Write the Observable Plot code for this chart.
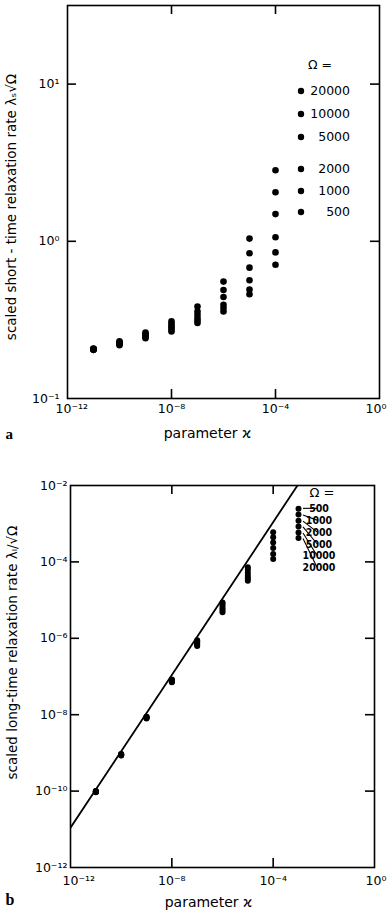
<!DOCTYPE html>
<html><head><meta charset="utf-8">
<script src="https://cdn.jsdelivr.net/npm/d3@7"></script>
<script src="https://cdn.jsdelivr.net/npm/@observablehq/plot@0.6"></script>
<style>
html,body{margin:0;padding:0;background:#fff;}
#chart svg{display:block;}
</style></head><body><div id="chart"></div>
<script>
// ---------- data ----------
const omegas = [20000, 10000, 5000, 2000, 1000, 500];

// panel a: scaled short-time relaxation rate
const kappaShort = [1e-11, 1e-10, 1e-9, 1e-8, 1e-7, 1e-6, 1e-5, 1e-4];
const shortRate20000 = [0.208, 0.231, 0.263, 0.310, 0.385, 0.554, 1.04, 2.83];
const shortRate10000 = [0.207, 0.228, 0.258, 0.300, 0.358, 0.490, 0.84, 2.05];
const shortRate5000  = [0.206, 0.226, 0.254, 0.290, 0.341, 0.442, 0.68, 1.49];
const shortRate2000  = [0.205, 0.223, 0.250, 0.283, 0.325, 0.395, 0.565, 1.06];
const shortRate1000  = [0.204, 0.221, 0.246, 0.275, 0.313, 0.376, 0.494, 0.85];
const shortRate500   = [0.204, 0.218, 0.242, 0.267, 0.302, 0.358, 0.460, 0.71];

// panel b: scaled long-time relaxation rate
const kappaLong = [1e-11, 1e-10, 1e-9, 1e-8, 1e-7, 1e-6, 1e-5, 1e-4, 1e-3];
const longRate500   = [1.00e-10, 9.3e-10, 8.9e-9, 8.3e-8, 8.9e-7, 8.7e-6, 7.2e-5, 6.0e-4, 2.45e-3];
const longRate1000  = [9.9e-11, 9.2e-10, 8.7e-9, 8.1e-8, 8.4e-7, 7.9e-6, 6.2e-5, 4.4e-4, 1.75e-3];
const longRate2000  = [9.8e-11, 9.0e-10, 8.6e-9, 7.9e-8, 7.8e-7, 7.0e-6, 5.1e-5, 3.2e-4, 1.20e-3];
const longRate5000  = [9.6e-11, 8.9e-10, 8.4e-9, 7.6e-8, 7.2e-7, 6.1e-6, 4.3e-5, 2.3e-4, 8.5e-4];
const longRate10000 = [9.5e-11, 8.7e-10, 8.2e-9, 7.3e-8, 6.7e-7, 5.4e-6, 3.7e-5, 1.6e-4, 5.9e-4];
const longRate20000 = [9.3e-11, 8.5e-10, 7.9e-9, 7.1e-8, 6.3e-7, 4.8e-6, 3.2e-5, 1.2e-4, 4.2e-4];

// asymptotic straight line in panel b
const lineKappa = [1e-12, 1e-3];
const lineRate  = [1.1e-11, 1.1e-2];

// tick values
const xTickValues = [1e-12, 1e-8, 1e-4, 1];
const yTicksShort = [1e-1, 1, 10];
const yTicksLong = [1e-12, 1e-10, 1e-8, 1e-6, 1e-4, 1e-2];

const legendTitle = "Ω =";
const labelShortY = "scaled short - time relaxation rate λₛ√Ω";
const labelLongY = "scaled long-time relaxation rate λₗ/√Ω";
const labelX = "parameter ϰ";

// ---------- build tables ----------
const shortSeries = {20000: shortRate20000, 10000: shortRate10000, 5000: shortRate5000, 2000: shortRate2000, 1000: shortRate1000, 500: shortRate500};
const longSeries = {500: longRate500, 1000: longRate1000, 2000: longRate2000, 5000: longRate5000, 10000: longRate10000, 20000: longRate20000};
const shortRows = omegas.flatMap(o => kappaShort.map((k, i) => ({kappa: k, omega: o, value: shortSeries[o][i]})));
const longRows = omegas.flatMap(o => kappaLong.map((k, i) => ({kappa: k, omega: o, value: longSeries[o][i]})));
const lineRows = lineKappa.map((k, i) => ({kappa: k, value: lineRate[i]}));

const SUP = {"-": "⁻", "0": "⁰", "1": "¹", "2": "²", "3": "³", "4": "⁴", "5": "⁵", "6": "⁶", "7": "⁷", "8": "⁸", "9": "⁹"};
const pow10 = d => "10" + String(Math.round(Math.log10(d))).split("").map(c => SUP[c]).join("");

const FONT = "'DejaVu Sans', sans-serif";
const NARROW = "'Liberation Sans Narrow', 'DejaVu Sans Condensed', 'DejaVu Sans', sans-serif";
const W = 387;

function innerTicks(xt, yt, fw, fh, len) {
  return [
    Plot.ruleX(xt, {x: d => d, insetTop: fh - len, strokeWidth: 1.6}),
    Plot.ruleX(xt, {x: d => d, insetBottom: fh - len, strokeWidth: 1.6}),
    Plot.ruleY(yt, {y: d => d, insetRight: fw - len, strokeWidth: 1.6}),
    Plot.ruleY(yt, {y: d => d, insetLeft: fw - len, strokeWidth: 1.6})
  ];
}

function xAxes(pad, startDx, endDx) {
  const common = {tickSize: 0, tickPadding: pad, tickFormat: pow10, label: null, fontSize: 12.5};
  return [
    Plot.axisX({...common, ticks: xTickValues.slice(0, 1), textAnchor: "start", dx: startDx}),
    Plot.axisX({...common, ticks: xTickValues.slice(1, 3)}),
    Plot.axisX({...common, ticks: xTickValues.slice(3), textAnchor: "end", dx: endDx})
  ];
}

// ---------- panel a ----------
const A = {h: 450, mt: 5, mb: 52, ml: 67, mr: 8};
const aFW = W - A.ml - A.mr, aFH = A.h - A.mt - A.mb;
const legendA = (index, scales, values, dims) => {
  const g = d3.create("svg:g").attr("font-family", FONT).attr("font-size", 12.5).attr("fill", "black");
  const xd = scales.x(1e-3);
  const xr = xd + 49;
  g.append("text").attr("x", xd + 19).attr("y", dims.marginTop + 60).attr("dy", "0.35em").text(legendTitle);
  omegas.forEach((o, i) => {
    const y = dims.marginTop + 86 + i * 23 - (i > 2 ? i === 3 ? -9 : i === 4 ? -8 : -6 : 0);
    g.append("circle").attr("cx", xd).attr("cy", y).attr("r", 3.2);
    g.append("text").attr("x", xr).attr("y", y).attr("dy", "0.35em").attr("text-anchor", "end").text(o);
  });
  return g.node();
};

const plotA = Plot.plot({
  width: W, height: A.h, marginTop: A.mt, marginBottom: A.mb, marginLeft: A.ml, marginRight: A.mr,
  style: {fontFamily: FONT, background: "white", color: "black"},
  x: {type: "log", domain: [1e-12, 1]},
  y: {type: "log", domain: [0.1, Math.pow(10, 1.5)]},
  marks: [
    Plot.frame({strokeWidth: 1.6}),
    ...innerTicks(xTickValues.slice(1, 3), [1, 10], aFW, aFH, 9),
    ...xAxes(6, -12, 7),
    Plot.axisY({ticks: yTicksShort, tickSize: 0, tickPadding: 8, tickFormat: pow10, label: null, fontSize: 12.5}),
    Plot.dot(shortRows, {x: "kappa", y: "value", r: 3.3, fill: "black"}),
    legendA,
    Plot.text([labelShortY], {text: d => d, frameAnchor: "left", textAnchor: "middle", rotate: -90, dx: -56, dy: 5, fontSize: 13.5}),
    Plot.text([labelX], {text: d => d, frameAnchor: "bottom", textAnchor: "middle", dx: -16, dy: 39, fontSize: 14, letterSpacing: 0.5}),
    Plot.text(["a"], {text: d => d, frameAnchor: "bottom-left", textAnchor: "start", dx: -62, dy: 40, fontSize: 15, fontWeight: "bold", fontFamily: "'Liberation Serif', serif"})
  ]
});

// ---------- panel b ----------
const B = {h: 467, mt: 35, mb: 50, ml: 70, mr: 13};
const bFW = W - B.ml - B.mr, bFH = B.h - B.mt - B.mb;
const legendOrder = [500, 1000, 2000, 5000, 10000, 20000];
const legendB = (index, scales, values, dims) => {
  const g = d3.create("svg:g").attr("font-family", NARROW).attr("font-size", 10.5).attr("fill", "black").attr("font-weight", "bold");
  const xd = scales.x(1e-3);
  const y0 = scales.y(longSeries[500][8]);
  g.append("text").attr("x", xd + 24).attr("y", y0 - 16).attr("dy", "0.35em").attr("font-weight", "normal").attr("font-family", FONT).attr("font-size", 13).text(legendTitle);
  legendOrder.forEach((o, i) => {
    const yd = scales.y(longSeries[o][8]);
    const yl = y0 + i * 11.8;
    g.append("line").attr("x1", xd + 5).attr("y1", yd + (i ? 1 : 0)).attr("x2", xd + 19).attr("y2", yl).attr("stroke", "black").attr("stroke-width", 1.1);
    g.append("text").attr("x", xd + 21).attr("y", yl).attr("dy", "0.36em").text(o);
  });
  return g.node();
};

const plotB = Plot.plot({
  width: W, height: B.h, marginTop: B.mt, marginBottom: B.mb, marginLeft: B.ml, marginRight: B.mr,
  style: {fontFamily: FONT, background: "white", color: "black"},
  x: {type: "log", domain: [1e-12, 1]},
  y: {type: "log", domain: [1e-12, 1e-2]},
  marks: [
    Plot.frame({strokeWidth: 1.6}),
    ...innerTicks(xTickValues.slice(1, 3), yTicksLong.slice(1, 5), bFW, bFH, 9),
    ...xAxes(9, -8, 12),
    Plot.axisY({ticks: yTicksLong, tickSize: 0, tickPadding: 3, tickFormat: pow10, label: null, fontSize: 12.5}),
    Plot.line(lineRows, {x: "kappa", y: "value", stroke: "black", strokeWidth: 1.8, clip: true}),
    Plot.dot(longRows, {x: "kappa", y: "value", r: 3, fill: "black"}),
    legendB,
    Plot.text([labelLongY], {text: d => d, frameAnchor: "left", textAnchor: "middle", rotate: -90, dx: -58, dy: -24, fontSize: 13.5}),
    Plot.text([labelX], {text: d => d, frameAnchor: "bottom", textAnchor: "middle", dx: -14, dy: 39, fontSize: 14, letterSpacing: 0.5}),
    Plot.text(["b"], {text: d => d, frameAnchor: "bottom-left", textAnchor: "start", dx: -65, dy: 37, fontSize: 16, fontWeight: "bold", fontFamily: "'Liberation Serif', serif"})
  ]
});

document.getElementById("chart").append(plotA, plotB);
</script>
</body></html>
